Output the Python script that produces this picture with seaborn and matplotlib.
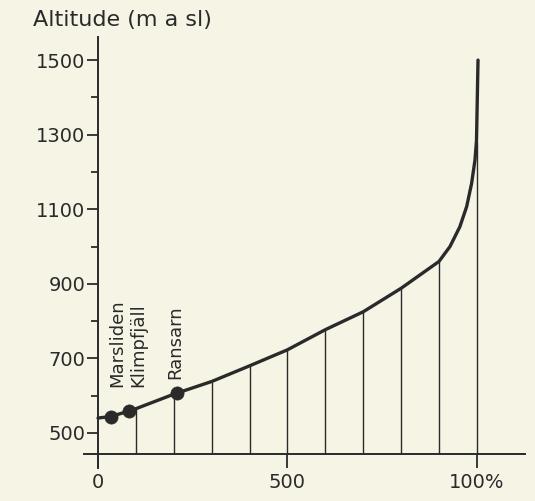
import matplotlib
matplotlib.use("Agg")
import matplotlib.pyplot as plt
from matplotlib.ticker import MultipleLocator
import seaborn as sns
import pandas as pd

# ---- data ----
curve_pct = [0, 3.3, 8.3, 10, 20, 30, 40, 50, 60, 70, 80, 85, 90, 92.9, 95.5, 97.3, 98.6, 99.5, 99.9, 100.3]
curve_alt = [540, 544, 559, 565, 604, 638, 680, 723, 777, 825, 888, 924, 960, 1000, 1053, 1107, 1169, 1232, 1285, 1500]

decile_pct = [10, 20, 30, 40, 50, 60, 70, 80, 90, 100]
decile_alt = [565, 604, 638, 680, 723, 777, 825, 888, 960, 1280]

site_names = ["Marsliden", "Klimpfjäll", "Ransarn"]
site_pct = [3.3, 8.3, 20.9]
site_alt = [544, 559, 608]

x_ticks = [0, 50, 100]
x_tick_labels = ["0", "500", "100%"]
y_ticks = [500, 700, 900, 1100, 1300, 1500]
y_label = "Altitude (m a sl)"
base_alt = 444  # altitude at which the x axis is drawn

# ---- style ----
sns.set_style("ticks")
plt.rcParams["font.family"] = ["DejaVu Sans"]
bg = "#f6f4e4"
ink = "#2a2a2a"

fig = plt.figure(figsize=(5.35, 5.01), dpi=100, facecolor=bg)
ax = fig.add_axes([84 / 535, 1 - 468 / 501, (525 - 84) / 535, (468 - 37) / 501])
ax.set_facecolor(bg)

curve_df = pd.DataFrame({"pct": curve_pct, "alt": curve_alt})
site_df = pd.DataFrame({"pct": site_pct, "alt": site_alt, "name": site_names})

# decile verticals
ax.vlines(decile_pct, base_alt, decile_alt, color=ink, lw=1.0, zorder=2)

sns.lineplot(data=curve_df, x="pct", y="alt", ax=ax, color=ink, lw=2.4,
             sort=False, estimator=None, zorder=3)
sns.scatterplot(data=site_df, x="pct", y="alt", ax=ax, color=ink, s=90,
                edgecolor=ink, linewidth=0.5, zorder=4)

offsets = {"Marsliden": (5.0, 21.0), "Klimpfjäll": (6.5, 17.0), "Ransarn": (-1.5, 9.5)}
for name, p, a in zip(site_names, site_pct, site_alt):
    ax.annotate(name, xy=(p, a), xytext=offsets[name], textcoords="offset points",
                rotation=90, ha="center", va="bottom", fontsize=13, color=ink)

# limits so spines land where the reference has them
ax.set_xlim(-3.7, 112.7)
ax.set_ylim(406, 1562)

for s in ["top", "right"]:
    ax.spines[s].set_visible(False)
ax.spines["left"].set_position(("data", 0))
ax.spines["bottom"].set_position(("data", base_alt))
for s in ["left", "bottom"]:
    ax.spines[s].set_color(ink)
    ax.spines[s].set_linewidth(1.4)

ax.set_yticks(y_ticks)
ax.set_yticklabels([str(v) for v in y_ticks])
ax.yaxis.set_minor_locator(MultipleLocator(100))
ax.set_xticks(x_ticks)
ax.set_xticklabels(x_tick_labels)

ax.tick_params(axis="y", which="major", direction="out", length=8, width=1.3,
               color=ink, labelcolor=ink, labelsize=14, pad=1)
ax.tick_params(axis="y", which="minor", direction="out", length=5, width=1.3, color=ink)
ax.tick_params(axis="x", which="major", direction="out", length=10, width=1.3,
               color=ink, labelcolor=ink, labelsize=14, pad=4)
ax.set_xlabel("")
ax.set_ylabel("")

fig.text(33 / 535, 1 - 20 / 501, y_label, fontsize=16, color=ink, ha="left", va="center")

fig.savefig("out.png", dpi=100, facecolor=bg)
